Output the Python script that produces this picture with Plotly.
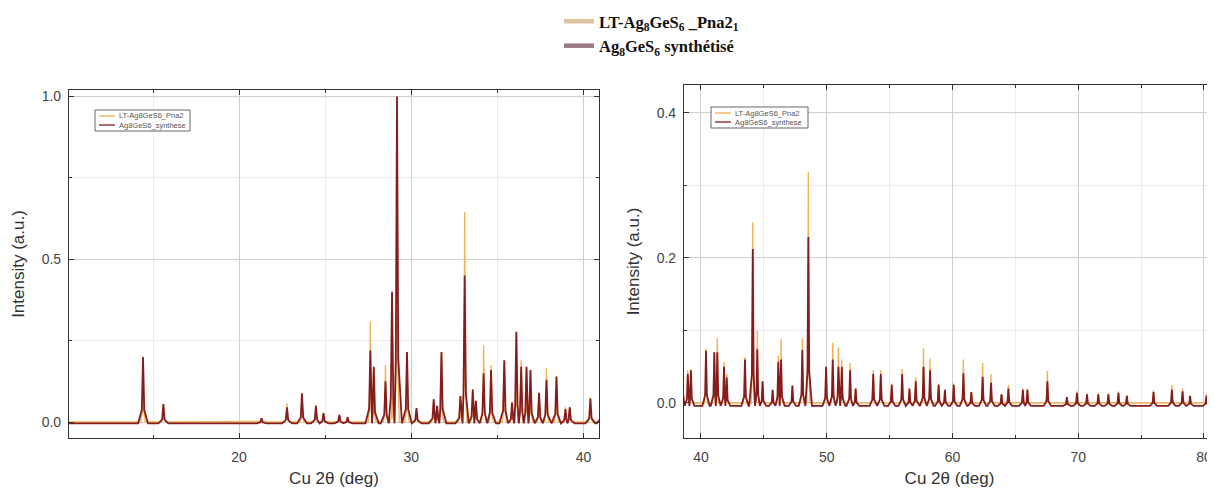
import plotly.graph_objects as go

# ---- data (2θ in degrees, normalised intensity) ----
peak_pos = [14.42, 15.6, 21.3, 22.78, 23.65, 24.46, 24.9, 25.82, 26.3,
            27.62, 27.82, 28.5, 28.88, 29.17, 29.75, 30.3, 31.3, 31.5, 31.75,
            32.85, 33.1, 33.57, 33.75, 34.2, 34.63, 35.4, 35.85, 36.1, 36.38,
            36.69, 36.92, 37.42, 37.85, 38.43, 38.95, 39.2, 40.4, 41.06, 41.3,
            41.83, 42.05, 43.5, 44.12, 44.48, 44.9, 45.7, 46.15, 46.37, 47.27,
            48.06, 48.54, 49.95, 50.48, 50.93, 51.2, 51.86, 52.3, 53.7, 54.3,
            55.17, 56.0, 56.58, 57.08, 57.7, 58.22, 58.9, 59.4, 60.1, 60.87,
            61.5, 62.4, 63.07, 63.9, 64.45, 65.6, 65.96, 67.55, 69.1, 69.9,
            70.7, 71.6, 72.4, 73.2, 73.87, 75.99, 77.45, 78.3, 78.9, 80.2]

ref_height = [0.20, 0.055, 0.010, 0.058, 0.088, 0.052, 0.027, 0.022, 0.015,
              0.31, 0.17, 0.175, 0.08, 1.0, 0.21, 0.04, 0.07, 0.05, 0.21,
              0.08, 0.645, 0.10, 0.065, 0.235, 0.175, 0.19, 0.06, 0.277, 0.19,
              0.17, 0.16, 0.09, 0.165, 0.14, 0.045, 0.047, 0.075, 0.07, 0.09,
              0.057, 0.04, 0.063, 0.249, 0.10, 0.03, 0.018, 0.065, 0.088, 0.024,
              0.089, 0.319, 0.05, 0.083, 0.077, 0.06, 0.055, 0.02, 0.045, 0.045,
              0.027, 0.047, 0.02, 0.035, 0.075, 0.061, 0.027, 0.018, 0.027, 0.06,
              0.015, 0.055, 0.04, 0.012, 0.025, 0.02, 0.02, 0.044, 0.008, 0.016,
              0.013, 0.013, 0.013, 0.016, 0.011, 0.018, 0.025, 0.02, 0.01, 0.012]

syn_height = [0.20, 0.055, 0.012, 0.045, 0.088, 0.05, 0.027, 0.022, 0.015,
              0.22, 0.17, 0.125, 0.40, 1.0, 0.215, 0.043, 0.07, 0.05, 0.215,
              0.08, 0.45, 0.10, 0.065, 0.15, 0.16, 0.19, 0.06, 0.277, 0.17,
              0.17, 0.16, 0.09, 0.13, 0.14, 0.04, 0.045, 0.072, 0.07, 0.07,
              0.05, 0.035, 0.06, 0.2125, 0.074, 0.03, 0.018, 0.057, 0.06, 0.024,
              0.073, 0.229, 0.05, 0.06, 0.05, 0.05, 0.045, 0.02, 0.04, 0.04,
              0.025, 0.04, 0.02, 0.03, 0.05, 0.045, 0.025, 0.018, 0.025, 0.041,
              0.015, 0.036, 0.028, 0.012, 0.02, 0.018, 0.018, 0.03, 0.008, 0.014,
              0.012, 0.012, 0.012, 0.014, 0.01, 0.015, 0.018, 0.016, 0.01, 0.01]

ref_baseline = 0.0
syn_baseline = -0.004
scan_start, scan_end = 10.0, 82.0

ref_name = "LT-Ag8GeS6_Pna2"
syn_name = "Ag8GeS6_synthese"
top_ref_label = "<b>LT-Ag<sub>8</sub>GeS<sub>6</sub> _Pna2<sub>1</sub></b>"
top_syn_label = "<b>Ag<sub>8</sub>GeS<sub>6</sub> synthétisé</b>"


def profile(pos, heights, base, w):
    """Polyline through each read peak apex, dropping to the baseline between peaks."""
    pk = sorted(zip(pos, heights))
    xs, ys = [scan_start], [base]
    for i, (p, v) in enumerate(pk):
        prev = pk[i - 1][0] if i > 0 else -1e9
        nxt = pk[i + 1][0] if i < len(pk) - 1 else 1e9
        lf = max(p - 2.2 * w, (prev + p) / 2)
        rf = min(p + 2.2 * w, (p + nxt) / 2)
        s = base + 0.2 * (v - base)
        xs += [lf, p - 0.55 * w, p, p + 0.55 * w, rf]
        ys += [base, s, v, s, base]
    xs.append(scan_end)
    ys.append(base)
    return xs, ys


ref_x, ref_y = profile(peak_pos, ref_height, ref_baseline, 0.06)
syn_x, syn_y = profile(peak_pos, syn_height, syn_baseline, 0.13)

REF_COL = "#f0b257"
SYN_COL = "#861c1c"

fig = go.Figure()
for xa, ya in [("x", "y"), ("x2", "y2")]:
    fig.add_trace(go.Scatter(x=ref_x, y=ref_y, mode="lines", name=ref_name,
                             line=dict(color=REF_COL, width=1.4),
                             xaxis=xa, yaxis=ya, showlegend=False))
    fig.add_trace(go.Scatter(x=syn_x, y=syn_y, mode="lines", name=syn_name,
                             line=dict(color=SYN_COL, width=1.8),
                             xaxis=xa, yaxis=ya, showlegend=False))

# top (figure-level) legend entries
fig.add_trace(go.Scatter(x=[None], y=[None], mode="lines", name=top_ref_label,
                         line=dict(color="#dbc4a0", width=4.5)))
fig.add_trace(go.Scatter(x=[None], y=[None], mode="lines", name=top_syn_label,
                         line=dict(color="#9a7a82", width=4.5)))

# the page adds an 8px body margin, so the figure is sized to the visible area
OFF = 8
W, H = 1215 - OFF, 490 - OFF


def px_x(x):
    return (x - OFF) / W


def px_y(y):
    return 1 - (y - OFF) / H


axis_common = dict(
    showline=True, linecolor="#333", linewidth=1.2, mirror="ticks",
    ticks="inside", ticklen=5, tickcolor="#333", tickwidth=1.2,
    showgrid=True, gridcolor="#cfcfcf", gridwidth=1,
    zeroline=False,
    tickfont=dict(family="Liberation Sans, Arial", size=14, color="#444"),
    title_font=dict(family="Liberation Sans, Arial", size=17, color="#333"),
)
minor_common = dict(ticks="inside", ticklen=3, tickcolor="#333",
                    showgrid=True, gridcolor="#ececec", gridwidth=1)

fig.update_layout(
    width=W, height=H,
    margin=dict(l=0, r=0, t=0, b=0, autoexpand=False),
    paper_bgcolor="white", plot_bgcolor="white",
    xaxis=dict(domain=[px_x(69), px_x(599)], range=[10.12, 40.9], anchor="y",
               dtick=10, tick0=0, minor=dict(dtick=5, **minor_common),
               ticklabelstandoff=6,
               title=dict(text="Cu 2θ (deg)", standoff=8), **axis_common),
    yaxis=dict(domain=[px_y(438), px_y(90)], range=[-0.049, 1.02], anchor="x",
               dtick=0.5, tick0=0, tickformat=".1f",
               minor=dict(dtick=0.25, **minor_common), ticklabelstandoff=4,
               title=dict(text="Intensity (a.u.)", standoff=12), **axis_common),
    xaxis2=dict(domain=[px_x(684), 1.0], range=[38.65, 80.88], anchor="y2",
                dtick=10, tick0=0, minor=dict(dtick=5, **minor_common),
                ticklabelstandoff=6,
                title=dict(text="Cu 2θ (deg)", standoff=8), **axis_common),
    yaxis2=dict(domain=[px_y(438), px_y(85)], range=[-0.0483, 0.4386], anchor="x2",
                dtick=0.2, tick0=0, tickformat=".1f",
                minor=dict(dtick=0.1, **minor_common), ticklabelstandoff=4,
                title=dict(text="Intensity (a.u.)", standoff=12), **axis_common),
    legend=dict(x=px_x(559), y=px_y(4), xanchor="left", yanchor="top",
                bgcolor="rgba(0,0,0,0)", borderwidth=0,
                font=dict(family="Liberation Serif, Times New Roman", size=16.5, color="#111"),
                tracegroupgap=0, itemwidth=30),
    showlegend=True,
)

# small in-panel legend boxes (as in the original instrument plots)
shapes, annots = [], []
for (bx0, by0, bx1, by1) in [(95, 110, 190, 131), (711, 107, 808, 128)]:
    shapes.append(dict(type="rect", xref="paper", yref="paper",
                       x0=px_x(bx0), x1=px_x(bx1), y0=px_y(by1), y1=px_y(by0),
                       line=dict(color="#666", width=1), fillcolor="white", layer="above"))
    for k, (lbl, col) in enumerate([(ref_name, REF_COL), (syn_name, SYN_COL)]):
        yy = by0 + 6 + k * 9
        shapes.append(dict(type="line", xref="paper", yref="paper",
                           x0=px_x(bx0 + 4), x1=px_x(bx0 + 20), y0=px_y(yy), y1=px_y(yy),
                           line=dict(color=col, width=1.3), layer="above"))
        annots.append(dict(xref="paper", yref="paper", x=px_x(bx0 + 22), y=px_y(yy),
                           xanchor="left", yanchor="middle", showarrow=False, text=lbl,
                           font=dict(family="Liberation Sans, Arial", size=7.5, color="#555")))
fig.update_layout(shapes=shapes, annotations=annots)

fig.write_html("out.html")
